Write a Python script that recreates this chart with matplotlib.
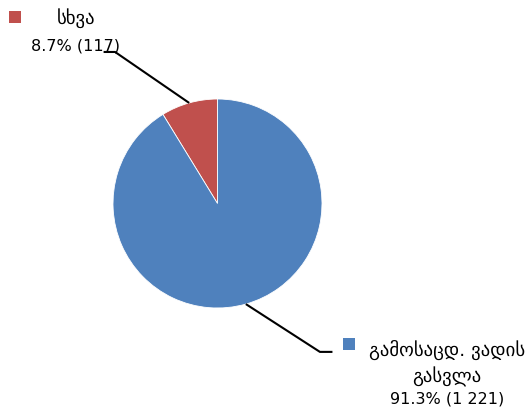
import numpy as np
import matplotlib
matplotlib.use("Agg")
import matplotlib.pyplot as plt

# slices, in drawing order (counter-clockwise from 12 o'clock)
labels = ["სხვა", "გამოსაცდ. ვადის\nგასვლა"]
counts = [117, 1221]
colors = ["#C0504D", "#4F81BD"]

plt.rcParams['font.family'] = ['DejaVu Sans']

fig = plt.figure(figsize=(5.31, 4.11), dpi=100)
# pie centre ~ (217, 203) px, radius ~104 px
cx, cy, r = 217.5 / 531, 1 - 203.5 / 411, 104.5
ax = fig.add_axes([cx - r / 531, cy - r / 411, 2 * r / 531, 2 * r / 411])

wedges, _ = ax.pie(counts, colors=colors, startangle=90, counterclock=True,
                   wedgeprops=dict(linewidth=0.6, edgecolor="white"))
ax.set_xlim(-1, 1)
ax.set_ylim(-1, 1)
ax.set_aspect("auto")
ax.axis("off")

total = sum(counts)
# elbow point, end of horizontal tail, marker pos, text x, line y's (data units)
layout = [
    dict(elbow=(-0.98, 1.45), tail=-1.09, marker=(-1.94, 1.785),
         tx=-1.355, ys=[1.775, 1.51]),
    dict(elbow=(0.98, -1.42), tail=1.10, marker=(1.258, -1.349),
         tx=2.196, ys=[-1.40, -1.655, -1.875]),
]

for w, lab, n, lay, col in zip(wedges, labels, counts, layout, colors):
    ang = np.deg2rad((w.theta1 + w.theta2) / 2)
    x0, y0 = np.cos(ang), np.sin(ang)
    ex, ey = lay["elbow"]
    ax.plot([x0, ex, lay["tail"]], [y0, ey, ey], color="black", lw=1.5,
            clip_on=False, solid_capstyle="butt")
    mx, my = lay["marker"]
    ax.plot(mx, my, marker="s", ms=8, color=col, clip_on=False, mew=0)
    pct = n / total * 100
    cnt = f"{n:,}".replace(",", " ")
    lines = lab.split("\n")
    for line, y in zip(lines, lay["ys"]):
        ax.text(lay["tx"], y, line, ha="center", va="center", fontsize=13.5,
                clip_on=False)
    ax.text(lay["tx"], lay["ys"][-1], f"{pct:.1f}% ({cnt})", ha="center",
            va="center", fontsize=11.5, clip_on=False)

fig.savefig("out.png", dpi=100)
